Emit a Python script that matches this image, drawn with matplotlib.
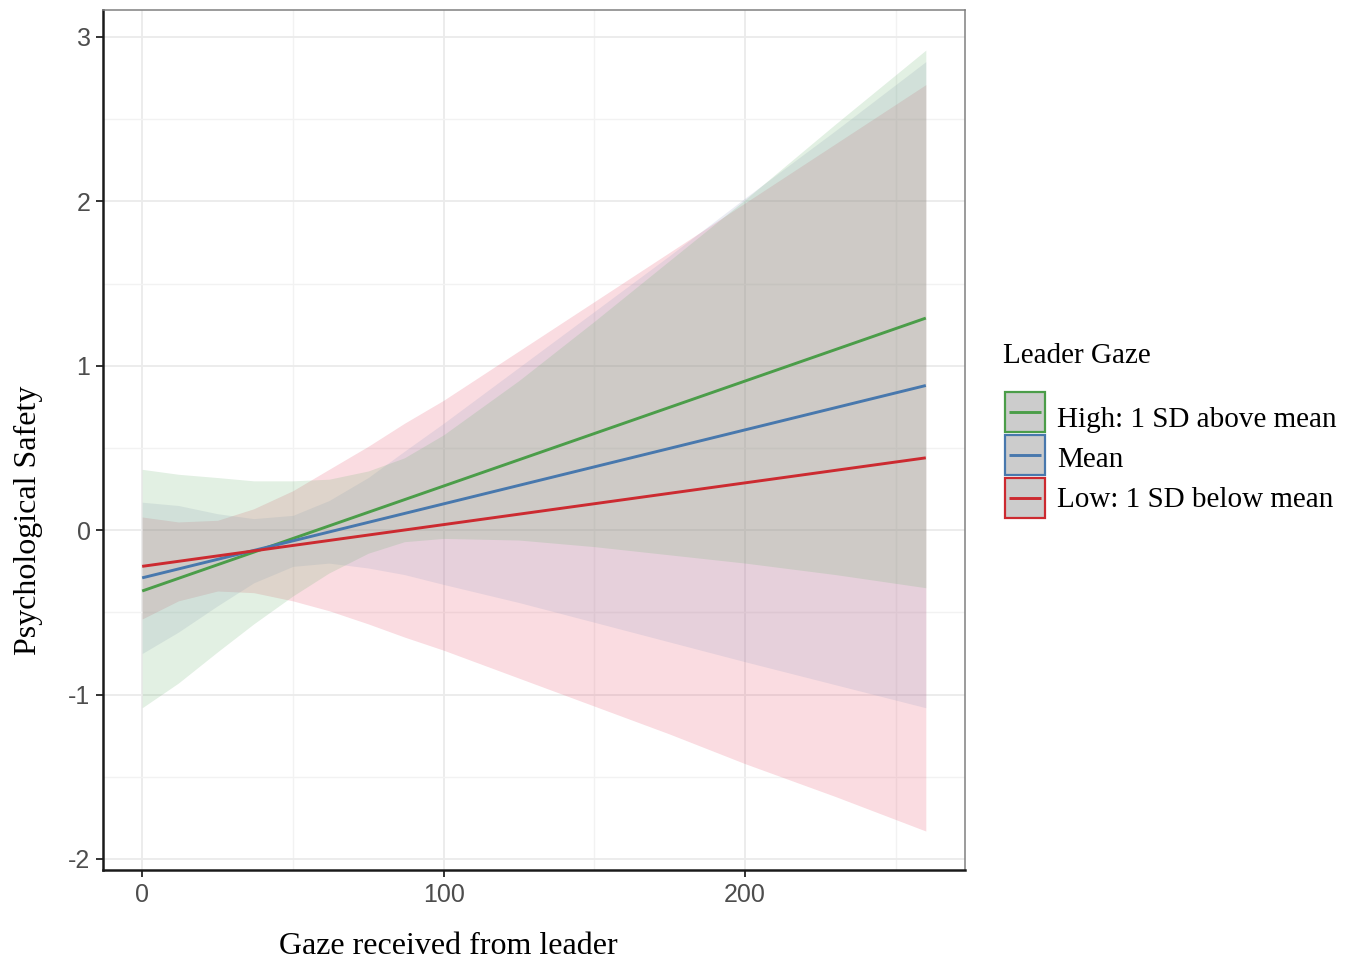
import numpy as np
import matplotlib
matplotlib.use("Agg")
import matplotlib.pyplot as plt
from matplotlib.patches import Rectangle

plt.rcParams["axes.unicode_minus"] = False

gaze = [0, 12, 25, 37, 50, 62, 75, 87, 100, 125, 150, 175, 200, 230, 260]

# High: 1 SD above mean
high_upper = [0.37, 0.34, 0.32, 0.30, 0.30, 0.31, 0.36, 0.44, 0.58, 0.91, 1.27, 1.64, 2.01, 2.47, 2.92]
high_lower = [-1.08, -0.93, -0.74, -0.57, -0.40, -0.26, -0.14, -0.07, -0.05, -0.06, -0.10, -0.15, -0.20, -0.27, -0.35]
# Mean
mean_upper = [0.17, 0.15, 0.10, 0.07, 0.09, 0.18, 0.32, 0.48, 0.65, 0.99, 1.33, 1.67, 2.02, 2.43, 2.85]
mean_lower = [-0.75, -0.62, -0.46, -0.32, -0.22, -0.20, -0.23, -0.27, -0.33, -0.44, -0.56, -0.68, -0.80, -0.94, -1.08]
# Low: 1 SD below mean
low_upper = [0.08, 0.05, 0.06, 0.13, 0.24, 0.37, 0.51, 0.65, 0.79, 1.09, 1.39, 1.69, 1.99, 2.35, 2.71]
low_lower = [-0.54, -0.43, -0.37, -0.38, -0.43, -0.49, -0.57, -0.65, -0.73, -0.90, -1.07, -1.24, -1.42, -1.62, -1.83]

# fitted simple slopes (straight lines, start and end)
fit_x = [0, 260]
high_fit = [-0.37, 1.29]
mean_fit = [-0.29, 0.88]
low_fit = [-0.22, 0.44]

labels = ["High: 1 SD above mean", "Mean", "Low: 1 SD below mean"]
line_cols = ["#4b9d49", "#4878ad", "#cc2a30"]
fill_cols = ["#6eb473", "#96a0c3", "#e6506a"]

serif = "Liberation Serif"
sans = "Liberation Sans"

W, H = 1357, 965
fig = plt.figure(figsize=(W / 100, H / 100), dpi=100)
ax = fig.add_axes([103 / W, 1 - 870 / H, (965 - 103) / W, (870 - 10) / H])

bands = [(high_lower, high_upper), (mean_lower, mean_upper), (low_lower, low_upper)]
fits = [high_fit, mean_fit, low_fit]
# low band first so the overlap comes out greyish like the original
for i in [2, 1, 0]:
    lo, hi = bands[i]
    ax.fill_between(gaze, lo, hi, color=fill_cols[i], alpha=0.2, linewidth=0, zorder=2)
for fy, lc in zip(fits, line_cols):
    ax.plot(fit_x, fy, color=lc, lw=2.1, solid_capstyle="butt", zorder=3)

ax.set_xlim(-13, 273)
ax.set_ylim(-2.067, 3.164)
ax.set_xticks([0, 100, 200])
ax.set_yticks([-2, -1, 0, 1, 2, 3])
ax.set_xticks([50, 150, 250], minor=True)
ax.set_yticks(np.arange(-1.5, 3.0, 1.0), minor=True)
ax.grid(which="major", color="#ebebeb", lw=1.3, zorder=0)
ax.grid(which="minor", color="#f2f2f2", lw=1.0, zorder=0)
ax.set_axisbelow(True)
ax.tick_params(which="minor", length=0)
ax.tick_params(which="major", length=5, width=1.4, color="#333333",
               labelsize=18, labelcolor="#4d4d4d", pad=4)
for t in ax.get_xticklabels() + ax.get_yticklabels():
    t.set_family(sans)

for s in ["left", "bottom"]:
    ax.spines[s].set_color("#1a1a1a")
    ax.spines[s].set_linewidth(1.8)
for s in ["top", "right"]:
    ax.spines[s].set_color("#808080")
    ax.spines[s].set_linewidth(1.1)

# overlay in pixel units for the axis titles and the legend
lax = fig.add_axes([0, 0, 1, 1], zorder=5)
lax.set_xlim(0, W)
lax.set_ylim(H, 0)
lax.axis("off")
lax.patch.set_alpha(0)

lax.text(448, 946, "Gaze received from leader", family=serif,
         fontsize=23, ha="center", va="center")
lax.text(28, 520, "Psychological Safety", family=serif,
         fontsize=23, ha="center", va="center", rotation=90)

lax.text(1003, 363, "Leader Gaze", family=serif, fontsize=21, ha="left", va="baseline")
key_tops = [392, 435, 478]
text_base = [427, 467, 507]
for lab, lc, kt, tb in zip(labels, line_cols, key_tops, text_base):
    lax.add_patch(Rectangle((1005, kt), 40, 40, facecolor="#cccccc", edgecolor=lc, lw=1.6))
    lax.plot([1009, 1041], [kt + 20, kt + 20], color=lc, lw=2.1, solid_capstyle="butt")
    lax.text(1057, tb, lab, family=serif, fontsize=21, ha="left", va="baseline")

fig.savefig("out.png", dpi=100)
